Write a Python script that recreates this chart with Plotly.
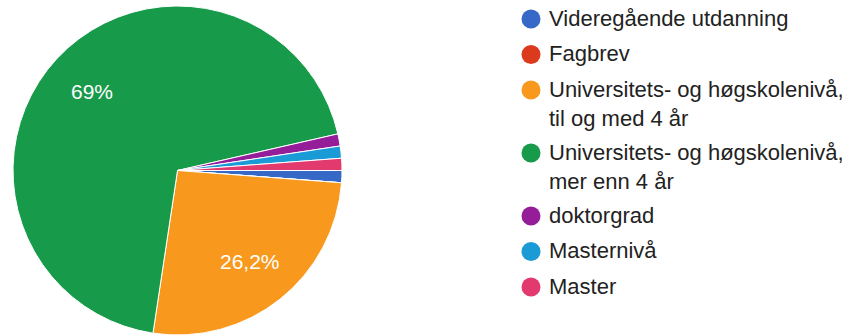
import math
import plotly.graph_objects as go

# Responses per education level (n = 84)
labels = [
    "Videregående utdanning",
    "Fagbrev",
    "Universitets- og høgskolenivå,<br>til og med 4 år",
    "Universitets- og høgskolenivå,<br>mer enn 4 år",
    "doktorgrad",
    "Masternivå",
    "Master",
]
counts = [1, 0, 22, 58, 1, 1, 1]
colors = ["#3668c8", "#dc3a1c", "#f8991d", "#179a4a", "#951d9a", "#1b9bd6", "#e23a6e"]
# Only the two large slices carry a percentage label
show_label = [False, False, True, True, False, False, False]

W, H = 847, 335
font_family = "Liberation Sans, Arial, sans-serif"
start_angle = 90  # degrees clockwise from 12 o'clock

# Pie placement (paper fractions)
dom_x = [13 / W, 342 / W]
dom_y = [0.0, 329 / H]

fig = go.Figure()

fig.add_trace(go.Pie(
    labels=labels,
    values=counts,
    sort=False,
    direction="clockwise",
    rotation=start_angle,
    marker=dict(colors=colors, line=dict(color="white", width=1)),
    textinfo="none",
    hoverinfo="label+value+percent",
    showlegend=False,
    domain=dict(x=dom_x, y=dom_y),
))

# Percentage labels at ~0.71 of the radius along each slice's mid-angle
cx = (dom_x[0] + dom_x[1]) / 2 * W
cy = (dom_y[0] + dom_y[1]) / 2 * H
radius = min((dom_x[1] - dom_x[0]) * W, (dom_y[1] - dom_y[0]) * H) / 2
total = sum(counts)
annotations = []
cum = 0
for c, s in zip(counts, show_label):
    mid = math.radians(start_angle + 360 * (cum + c / 2) / total)
    cum += c
    if not s:
        continue
    pct = format(100 * c / total, ".3g").replace(".", ",") + "%"
    rr = 0.71 * radius
    annotations.append(dict(
        x=(cx + rr * math.sin(mid)) / W, y=(cy + rr * math.cos(mid)) / H,
        xref="paper", yref="paper", text=pct, showarrow=False,
        xanchor="center", yanchor="middle",
        font=dict(color="white", size=21, family=font_family),
    ))

# Legend: round swatch followed by the category name
shapes = []
row_y = 19          # centre of the first row, px from top
row_step = 35.5     # distance between entries
line_step = 27.5    # extra height for each wrapped line
swatch_x = 531
text_x = 547
for name, col in zip(labels, colors):
    shapes.append(dict(
        type="circle", xref="paper", yref="paper",
        xsizemode="pixel", ysizemode="pixel",
        xanchor=swatch_x / W, yanchor=1 - row_y / H,
        x0=-9.5, x1=9.5, y0=-9.5, y1=9.5,
        fillcolor=col, line=dict(width=0),
    ))
    annotations.append(dict(
        x=text_x / W, y=1 - (row_y - 15.3) / H,
        xref="paper", yref="paper", text=name, showarrow=False,
        xanchor="left", yanchor="top", align="left",
        font=dict(color="#222222", size=22, family=font_family),
    ))
    row_y += row_step + line_step * name.count("<br>")

fig.update_layout(
    width=W,
    height=H,
    margin=dict(l=0, r=0, t=0, b=0),
    paper_bgcolor="white",
    plot_bgcolor="white",
    showlegend=False,
    shapes=shapes,
    annotations=annotations,
)

fig.write_html("out.html")
